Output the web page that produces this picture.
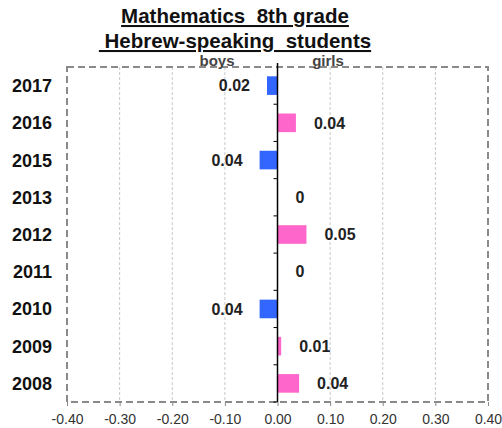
<!DOCTYPE html>
<html>
<head>
<meta charset="utf-8">
<script src="https://cdn.jsdelivr.net/npm/d3@7"></script>
<style>
  body { margin: 0; background: #fff; }
  svg { display: block; font-family: Arial, 'Liberation Sans', sans-serif; }
</style>
</head>
<body>
<div id="chart"></div>
<script>
// chart data (boys negative / girls positive)
const years = ['2017', '2016', '2015', '2013', '2012', '2011', '2010', '2009', '2008']
const gaps = [-0.02, 0.035, -0.034, 0, 0.055, 0, -0.034, 0.007, 0.041]
const gapLabels = ['0.02', '0.04', '0.04', '0', '0.05', '0', '0.04', '0.01', '0.04']
const xTicks = [-0.4, -0.3, -0.2, -0.1, 0, 0.1, 0.2, 0.3, 0.4]
const titleLines = ['Mathematics  8th grade', ' Hebrew-speaking  students']
const sideLabels = ['boys', 'girls']

const width = 502
const height = 428
const plot = { left: 67, right: 488, top: 67, bottom: 402 }

const boyColor = '#3366ff'
const girlColor = '#ff66cc'

const rows = years.map((y, i) => ({ year: y, value: gaps[i], label: gapLabels[i] }))

const svg = d3
  .select('#chart')
  .append('svg')
  .attr('width', width)
  .attr('height', height)

const xScale = d3
  .scaleLinear()
  .domain([-0.4, 0.4])
  .range([plot.left, plot.right])

const yScale = d3
  .scaleBand()
  .domain(years)
  .range([plot.top, plot.bottom])
  .paddingInner(0.5)
  .paddingOuter(0.25)

// title, underlined
svg
  .append('g')
  .attr('class', 'title')
  .selectAll('text')
  .data(titleLines)
  .join('text')
  .attr('x', 235)
  .attr('y', (d, i) => 23 + i * 25)
  .attr('text-anchor', 'middle')
  .attr('font-size', 20.5)
  .attr('font-weight', 'bold')
  .attr('fill', '#111')
  .style('white-space', 'pre')
  .style('text-decoration', 'underline')
  .text(d => d)

// vertical grid lines
svg
  .append('g')
  .attr('class', 'grid')
  .selectAll('line')
  .data(xTicks.filter(t => t !== 0 && Math.abs(t) < 0.4))
  .join('line')
  .attr('x1', d => xScale(d))
  .attr('x2', d => xScale(d))
  .attr('y1', plot.top)
  .attr('y2', plot.bottom)
  .attr('stroke', '#c8c8c8')
  .attr('stroke-width', 1)
  .attr('stroke-dasharray', '3,2')

// dashed plot border
svg
  .append('rect')
  .attr('x', plot.left)
  .attr('y', plot.top)
  .attr('width', plot.right - plot.left)
  .attr('height', plot.bottom - plot.top)
  .attr('fill', 'none')
  .attr('stroke', '#8a8a8a')
  .attr('stroke-width', 2)
  .attr('stroke-dasharray', '7,4')

// bottom axis
svg
  .append('g')
  .attr('transform', `translate(0, ${plot.bottom})`)
  .call(
    d3
      .axisBottom(xScale)
      .tickValues(xTicks)
      .tickSize(4)
      .tickPadding(8)
      .tickFormat(d => d.toFixed(2)),
  )
  .call(g => {
    g.select('.domain').remove()
    g.selectAll('.tick line').attr('stroke', '#8a8a8a')
    g.selectAll('.tick text')
      .attr('fill', '#333')
      .attr('font-size', 14)
      .attr('font-family', 'Arial, Liberation Sans, sans-serif')
  })

// bars
svg
  .append('g')
  .attr('class', 'bars')
  .selectAll('rect')
  .data(rows)
  .join('rect')
  .attr('x', d => xScale(Math.min(0, d.value)))
  .attr('y', d => yScale(d.year))
  .attr('width', d => Math.abs(xScale(d.value) - xScale(0)))
  .attr('height', yScale.bandwidth())
  .attr('fill', d => (d.value < 0 ? boyColor : girlColor))

// zero axis with category ticks
const step = yScale.step()
const zeroAxis = svg.append('g').attr('class', 'zero-axis')
zeroAxis
  .append('line')
  .attr('x1', xScale(0))
  .attr('x2', xScale(0))
  .attr('y1', plot.top - 4)
  .attr('y2', plot.bottom)
  .attr('stroke', '#000')
  .attr('stroke-width', 1.5)
zeroAxis
  .selectAll('line.tick')
  .data(d3.range(1, years.length + 1))
  .join('line')
  .attr('class', 'tick')
  .attr('x1', xScale(0) - 4)
  .attr('x2', xScale(0))
  .attr('y1', k => plot.top + k * step)
  .attr('y2', k => plot.top + k * step)
  .attr('stroke', '#000')
  .attr('stroke-width', 1)

// year labels
svg
  .append('g')
  .attr('class', 'years')
  .selectAll('text')
  .data(years)
  .join('text')
  .attr('x', 52)
  .attr('y', d => yScale(d) + yScale.bandwidth() / 2)
  .attr('dy', '0.36em')
  .attr('text-anchor', 'end')
  .attr('font-size', 18)
  .attr('font-weight', 'bold')
  .attr('fill', '#111')
  .text(d => d)

// value labels
svg
  .append('g')
  .attr('class', 'values')
  .selectAll('text')
  .data(rows)
  .join('text')
  .attr('x', d => (d.value < 0 ? xScale(d.value) - 17 : xScale(d.value) + 18))
  .attr('y', d => yScale(d.year) + yScale.bandwidth() / 2)
  .attr('dy', '0.36em')
  .attr('text-anchor', d => (d.value < 0 ? 'end' : 'start'))
  .attr('font-size', 16)
  .attr('font-weight', 'bold')
  .attr('fill', '#222')
  .text(d => d.label)

// boys / girls side labels
svg
  .append('g')
  .attr('class', 'sides')
  .selectAll('text')
  .data(sideLabels)
  .join('text')
  .attr('x', (d, i) => (i === 0 ? 217 : 328))
  .attr('y', 66)
  .attr('text-anchor', 'middle')
  .attr('font-size', 15)
  .attr('font-weight', 'bold')
  .attr('fill', '#444')
  .text(d => d)
</script>
</body>
</html>
